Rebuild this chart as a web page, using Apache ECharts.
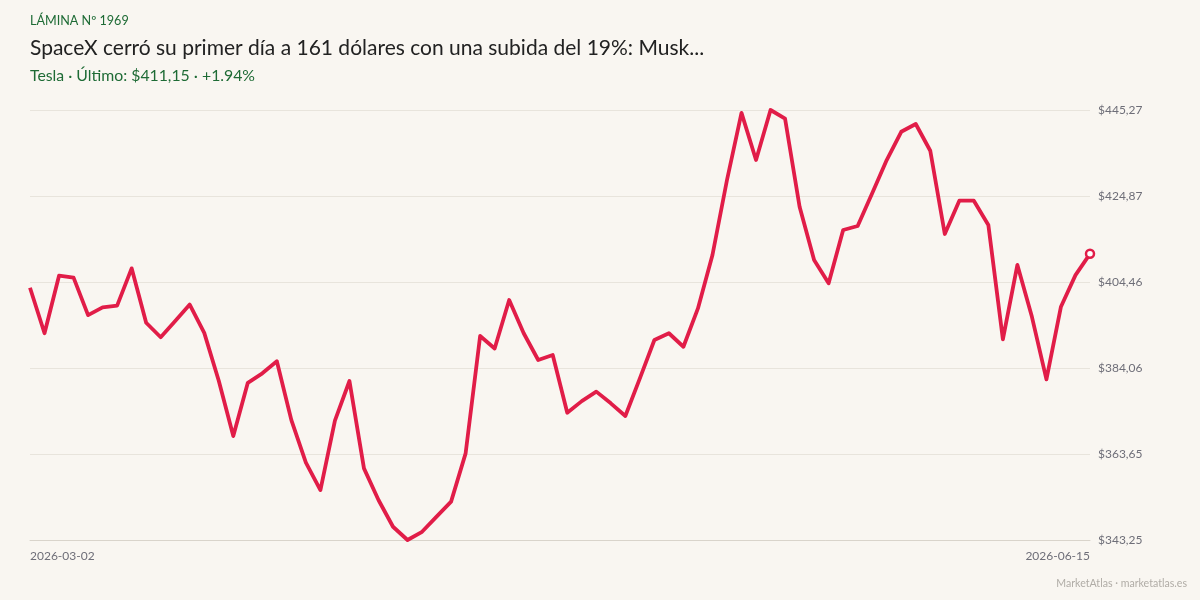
<!DOCTYPE html>
<html>
<head>
<meta charset="utf-8">
<script src="https://cdn.jsdelivr.net/npm/echarts@6/dist/echarts.min.js"></script>
<style>
  html, body { margin: 0; padding: 0; background: #f9f6f1; }
  #main { width: 1200px; height: 600px; }
</style>
</head>
<body>
<div id="main"></div>
<script>
// trading days shown on the chart
var dates = [
  '2026-03-02', '2026-03-03', '2026-03-04', '2026-03-05', '2026-03-06',
  '2026-03-09', '2026-03-10', '2026-03-11', '2026-03-12', '2026-03-13',
  '2026-03-16', '2026-03-17', '2026-03-18', '2026-03-19', '2026-03-20',
  '2026-03-23', '2026-03-24', '2026-03-25', '2026-03-26', '2026-03-27',
  '2026-03-30', '2026-03-31', '2026-04-01', '2026-04-02',
  '2026-04-06', '2026-04-07', '2026-04-08', '2026-04-09', '2026-04-10',
  '2026-04-13', '2026-04-14', '2026-04-15', '2026-04-16', '2026-04-17',
  '2026-04-20', '2026-04-21', '2026-04-22', '2026-04-23', '2026-04-24',
  '2026-04-27', '2026-04-28', '2026-04-29', '2026-04-30', '2026-05-01',
  '2026-05-04', '2026-05-05', '2026-05-06', '2026-05-07', '2026-05-08',
  '2026-05-11', '2026-05-12', '2026-05-13', '2026-05-14', '2026-05-15',
  '2026-05-18', '2026-05-19', '2026-05-20', '2026-05-21', '2026-05-22',
  '2026-05-26', '2026-05-27', '2026-05-28', '2026-05-29',
  '2026-06-01', '2026-06-02', '2026-06-03', '2026-06-04', '2026-06-05',
  '2026-06-08', '2026-06-09', '2026-06-10', '2026-06-11', '2026-06-12',
  '2026-06-15'
]

// closing prices
var closes = [
  403.1, 392.3, 405.95, 405.5, 396.6, 398.45, 398.85, 407.7, 394.8, 391.35,
  395.2, 399.1, 392.4, 381.05, 367.9, 380.55, 382.8, 385.65, 371.7, 361.6,
  355.1, 371.55, 380.97, 360.25, 352.74, 346.4, 343.25, 345.2, 348.8, 352.35,
  363.8, 391.65, 388.7, 400.2, 392.3, 385.95, 387.14, 373.45, 376.2, 378.45,
  375.68, 372.67, 381.6, 390.7, 392.3, 389.1, 398.2, 410.87, 428.66, 444.6,
  433.4, 445.27, 443.2, 422.3, 409.68, 404.15, 416.8, 417.75, 425.5, 433.4,
  440.1, 441.95, 435.6, 415.85, 423.75, 423.75, 417.98, 390.86, 408.5, 396.2,
  381.37, 398.6, 406.1, 411.15
]

var yTicks = [343.25, 363.65, 384.06, 404.46, 424.87, 445.27]

var green = '#1e6b35'
var lineColor = '#e11d48'

var chart = echarts.init(document.getElementById('main'))

var seriesData = closes.map(function (v, i) {
  if (i === closes.length - 1) {
    return {
      value: v,
      symbol: 'circle',
      symbolSize: 8,
      itemStyle: { color: '#ffffff', borderColor: lineColor, borderWidth: 2.5 }
    }
  }
  return { value: v, symbol: 'none' }
})

chart.setOption({
  backgroundColor: '#f9f6f1',
  textStyle: { fontFamily: 'Lato' },
  title: [
    {
      text: 'LÁMINA Nº 1969',
      left: 30,
      top: 14,
      padding: 0,
      textStyle: { fontFamily: 'Lato', fontSize: 12.6, fontWeight: 'normal', color: green }
    },
    {
      text: 'SpaceX cerró su primer día a 161 dólares con una subida del 19%: Musk...',
      left: 30,
      top: 38,
      padding: 0,
      textStyle: { fontFamily: 'Lato', fontSize: 21, fontWeight: 'normal', color: '#222222' }
    },
    {
      text: 'Tesla · Último: $411,15 · +1.94%',
      left: 30,
      top: 68,
      padding: 0,
      textStyle: { fontFamily: 'Lato', fontSize: 15.8, fontWeight: 'normal', color: green }
    },
    {
      text: 'MarketAtlas · marketatlas.es',
      right: 13,
      top: 578,
      padding: 0,
      textStyle: { fontFamily: 'Lato', fontSize: 10.6, fontWeight: 'normal', color: '#b0aca6' }
    }
  ],
  grid: {
    left: 30,
    right: 110,
    top: 110,
    bottom: 60
  },
  xAxis: {
    type: 'category',
    data: dates,
    boundaryGap: false,
    axisLine: { show: true, lineStyle: { color: '#d9d4cb', width: 1 } },
    axisTick: { show: false },
    splitLine: { show: false },
    axisLabel: {
      interval: function (i) { return i === 0 || i === dates.length - 1 },
      alignMinLabel: 'left',
      alignMaxLabel: 'right',
      margin: 10,
      fontFamily: 'Lato',
      fontSize: 12,
      color: '#6e6e78'
    }
  },
  yAxis: {
    type: 'value',
    position: 'right',
    min: yTicks[0],
    max: yTicks[yTicks.length - 1],
    interval: (yTicks[yTicks.length - 1] - yTicks[0]) / (yTicks.length - 1),
    axisLine: { show: false },
    axisTick: { show: false },
    splitLine: { lineStyle: { color: '#e8e4dc', width: 1 } },
    axisLabel: {
      margin: 8,
      fontFamily: 'Lato',
      fontSize: 12,
      color: '#6e6e78',
      formatter: function (v) {
        return '$' + v.toFixed(2).replace('.', ',')
      }
    }
  },
  series: [
    {
      name: 'Tesla',
      type: 'line',
      data: seriesData,
      showSymbol: true,
      lineStyle: { color: lineColor, width: 3.8, join: 'round' },
      itemStyle: { color: lineColor },
      animation: false,
      z: 3
    }
  ]
})
</script>
</body>
</html>
